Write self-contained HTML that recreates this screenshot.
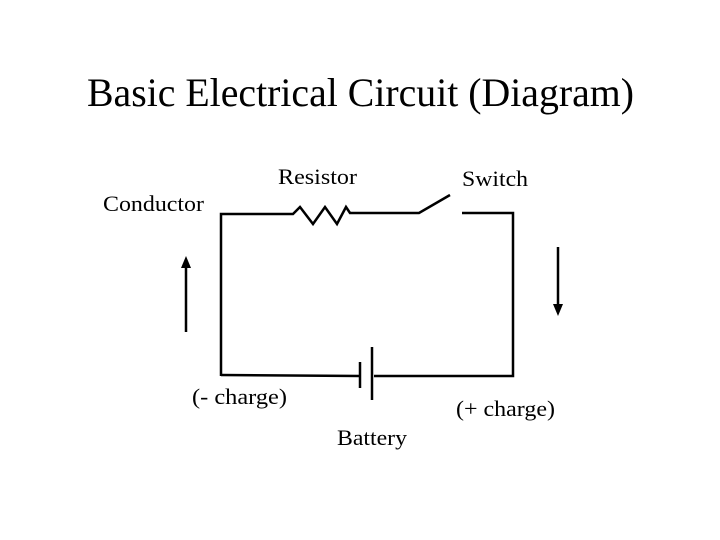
<!DOCTYPE html>
<html><head><style>
html,body{margin:0;padding:0;background:#fff;}
svg{display:block;}
text{font-family:"Liberation Serif",serif;fill:#000;}
</style></head><body>
<svg width="720" height="540" viewBox="0 0 720 540">
<text x="87" y="106" font-size="40" textLength="547" lengthAdjust="spacingAndGlyphs">Basic Electrical Circuit (Diagram)</text>
<text x="278" y="184" font-size="22" textLength="79" lengthAdjust="spacingAndGlyphs">Resistor</text>
<text x="462" y="186" font-size="22" textLength="66" lengthAdjust="spacingAndGlyphs">Switch</text>
<text x="103" y="211" font-size="22" textLength="101" lengthAdjust="spacingAndGlyphs">Conductor</text>
<text x="192" y="404" font-size="22" textLength="95" lengthAdjust="spacingAndGlyphs">(- charge)</text>
<text x="456" y="416" font-size="22" textLength="99" lengthAdjust="spacingAndGlyphs">(+ charge)</text>
<text x="337" y="445" font-size="22" textLength="70" lengthAdjust="spacingAndGlyphs">Battery</text>
<g stroke="#000" stroke-width="2.5" fill="none">
<polyline points="221,376 221,214 293,214 300,207 313,224 325,207 337,224 346,207 350,213 419,213 450,195"/>
<polyline points="462,213 513,213 513,376 374,376"/>
<line x1="221" y1="375" x2="360" y2="376"/>
<line x1="360" y1="362" x2="360" y2="388"/>
<line x1="372" y1="347" x2="372" y2="400"/>
<line x1="186" y1="332" x2="186" y2="266"/>
<line x1="558" y1="247" x2="558" y2="306"/>
</g>
<polygon points="186,256 181,268 191,268" fill="#000"/>
<polygon points="558,316 553,304 563,304" fill="#000"/>
</svg>
</body></html>
